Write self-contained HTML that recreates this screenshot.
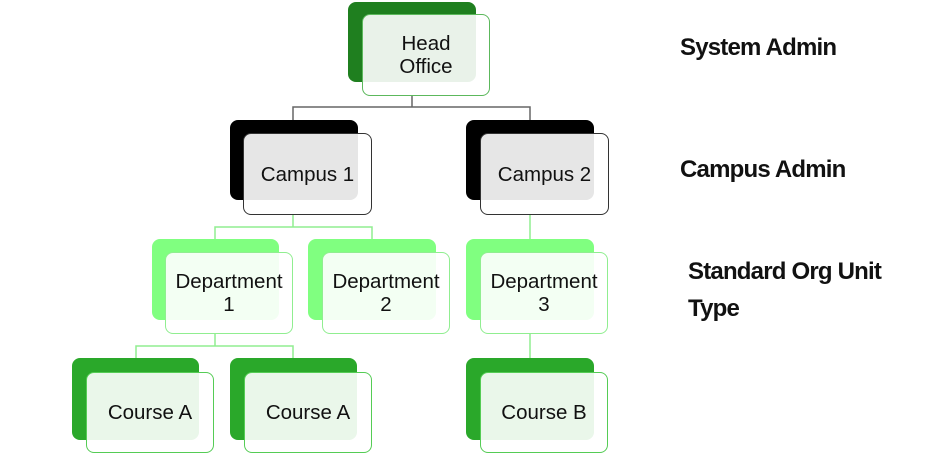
<!DOCTYPE html>
<html><head><meta charset="utf-8"><style>
body{margin:0;width:936px;height:454px;background:#fff;overflow:hidden;position:relative;font-family:"Liberation Sans",sans-serif}
.b{position:absolute;border-radius:8px}
.f{position:absolute;border-radius:8px;background:rgba(255,255,255,0.9);border:1.5px solid;box-sizing:border-box;display:flex;align-items:center;justify-content:center;text-align:center;font-size:20.5px;line-height:23px;color:#111}
.l{position:absolute;font-weight:bold;font-size:24px;letter-spacing:-0.8px;color:#111;line-height:37px}
</style></head><body>
<svg width="936" height="454" style="position:absolute;left:0;top:0">
<g stroke="#666" stroke-width="1.5" fill="none">
<path d="M412 96V107M293 120V107H530V120"/>
</g>
<g stroke="#90ee90" stroke-width="1.5" fill="none">
<path d="M293 215V227M215 239V227H372V239M530 215V239M215 334V346M136 358V346H293V358M530 334V358"/>
</g>
</svg>
<div class="b" style="left:348px;top:2px;width:128px;height:80px;background:#1f7f1f"></div>
<div class="f" style="left:362px;top:14px;width:128px;height:82px;border-color:#5cb85c">Head<br>Office</div>

<div class="b" style="left:230px;top:120px;width:128px;height:80px;background:#000"></div>
<div class="f" style="left:243px;top:133px;width:129px;height:82px;border-color:#333">Campus 1</div>
<div class="b" style="left:466px;top:120px;width:128px;height:80px;background:#000"></div>
<div class="f" style="left:480px;top:133px;width:129px;height:82px;border-color:#333">Campus 2</div>

<div class="b" style="left:152px;top:239px;width:127px;height:81px;background:#80ff80"></div>
<div class="f" style="left:165px;top:252px;width:128px;height:82px;border-color:#90ee90">Department<br>1</div>
<div class="b" style="left:308px;top:239px;width:128px;height:81px;background:#80ff80"></div>
<div class="f" style="left:322px;top:252px;width:128px;height:82px;border-color:#90ee90">Department<br>2</div>
<div class="b" style="left:466px;top:239px;width:128px;height:81px;background:#80ff80"></div>
<div class="f" style="left:480px;top:252px;width:128px;height:82px;border-color:#90ee90">Department<br>3</div>

<div class="b" style="left:72px;top:358px;width:127px;height:82px;background:#2aa82a"></div>
<div class="f" style="left:86px;top:372px;width:128px;height:81px;border-color:#5c5">Course A</div>
<div class="b" style="left:230px;top:358px;width:127px;height:82px;background:#2aa82a"></div>
<div class="f" style="left:244px;top:372px;width:128px;height:81px;border-color:#5c5">Course A</div>
<div class="b" style="left:466px;top:358px;width:128px;height:82px;background:#2aa82a"></div>
<div class="f" style="left:480px;top:372px;width:128px;height:81px;border-color:#5c5">Course B</div>

<div class="l" style="left:680px;top:29px">System Admin</div>
<div class="l" style="left:680px;top:151px">Campus Admin</div>
<div class="l" style="left:688px;top:253px">Standard Org Unit<br>Type</div>
</body></html>
